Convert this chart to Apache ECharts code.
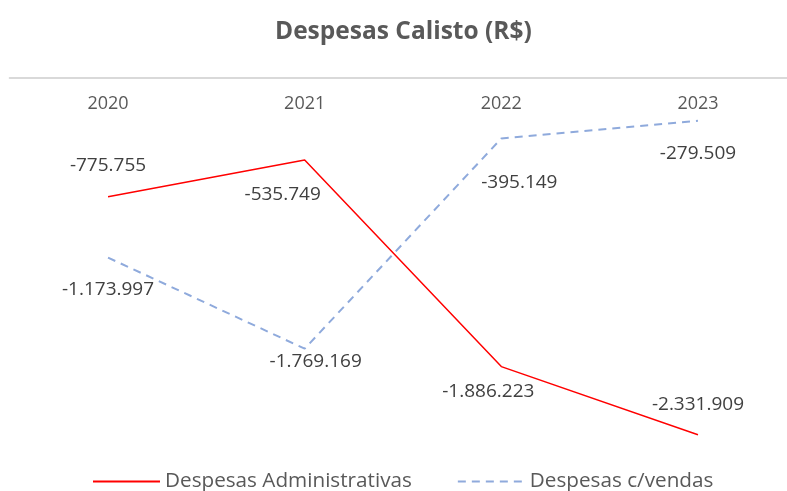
<!DOCTYPE html>
<html>
<head>
<meta charset="utf-8">
<script src="https://cdn.jsdelivr.net/npm/echarts@6/dist/echarts.min.js"></script>
<style>
  html, body { margin: 0; padding: 0; background: #fff; }
  #chart { width: 787px; height: 491px; }
</style>
</head>
<body>
<div id="chart"></div>
<script>
// Annual expense figures (R$)
const years = ['2020', '2021', '2022', '2023'];
const despesasAdministrativas = [-775755, -535749, -1886223, -2331909];
const despesasVendas = [-1173997, -1769169, -395149, -279509];

// Label offsets (px) relative to each point, per series
const adminLabelOffsets = [[0, -31], [-22, 35], [-13, 25], [0, -30]];
const vendasLabelOffsets = [[0, 32], [11, 13], [18, 44], [0, 33]];

const FONT = '"Open Sans", "Noto Sans", sans-serif';

function fmtBR(v) {
  const s = Math.abs(v).toString().replace(/\B(?=(\d{3})+(?!\d))/g, '.');
  return (v < 0 ? '-' : '') + s;
}

function withLabels(values, offsets) {
  return values.map((v, i) => ({
    value: v,
    label: { offset: offsets[i] }
  }));
}

const labelStyle = {
  show: true,
  position: 'inside',
  align: 'center',
  verticalAlign: 'middle',
  color: '#404040',
  fontSize: 19,
  fontFamily: FONT,
  formatter: p => fmtBR(p.value)
};

const chart = echarts.init(document.getElementById('chart'), null, { renderer: 'canvas' });

chart.setOption({
  animation: false,
  backgroundColor: '#ffffff',
  title: {
    text: 'Despesas Calisto (R$)',
    left: 270,
    top: 15,
    textStyle: {
      color: '#595959',
      fontSize: 24.5,
      fontWeight: 'bold',
      fontFamily: FONT
    }
  },
  legend: {
    top: 466,
    left: 87,
    itemWidth: 67,
    itemHeight: 12,
    itemGap: 45,
    itemStyle: { opacity: 0 },
    textStyle: { color: '#595959', fontSize: 20.7, fontFamily: FONT },
    data: ['Despesas Administrativas', 'Despesas c/vendas']
  },
  grid: {
    left: 9.7,
    width: 786.6,
    top: 78,
    height: 382.5,
    containLabel: false,
    outerBoundsMode: 'none'
  },
  xAxis: {
    type: 'category',
    data: years,
    boundaryGap: true,
    position: 'top',
    axisLine: { onZero: false, lineStyle: { color: '#d9d9d9', width: 2 } },
    axisTick: { show: false },
    axisLabel: {
      inside: true,
      margin: 17,
      color: '#595959',
      fontSize: 18,
      fontFamily: FONT
    },
    splitLine: { show: false }
  },
  yAxis: {
    type: 'value',
    min: -2500000,
    max: 0,
    show: false,
    splitLine: { show: false }
  },
  series: [
    {
      name: 'Despesas Administrativas',
      type: 'line',
      data: withLabels(despesasAdministrativas, adminLabelOffsets),
      symbol: 'circle',
      symbolSize: 0.1,
      itemStyle: { color: '#ff0000' },
      lineStyle: { color: '#ff0000', width: 1.5 },
      label: labelStyle,
      z: 3
    },
    {
      name: 'Despesas c/vendas',
      type: 'line',
      data: withLabels(despesasVendas, vendasLabelOffsets),
      symbol: 'circle',
      symbolSize: 0.1,
      itemStyle: { color: '#8faadc' },
      lineStyle: { color: '#8faadc', width: 2, type: [8, 6] },
      label: labelStyle,
      z: 2
    }
  ]
});
</script>
</body>
</html>
